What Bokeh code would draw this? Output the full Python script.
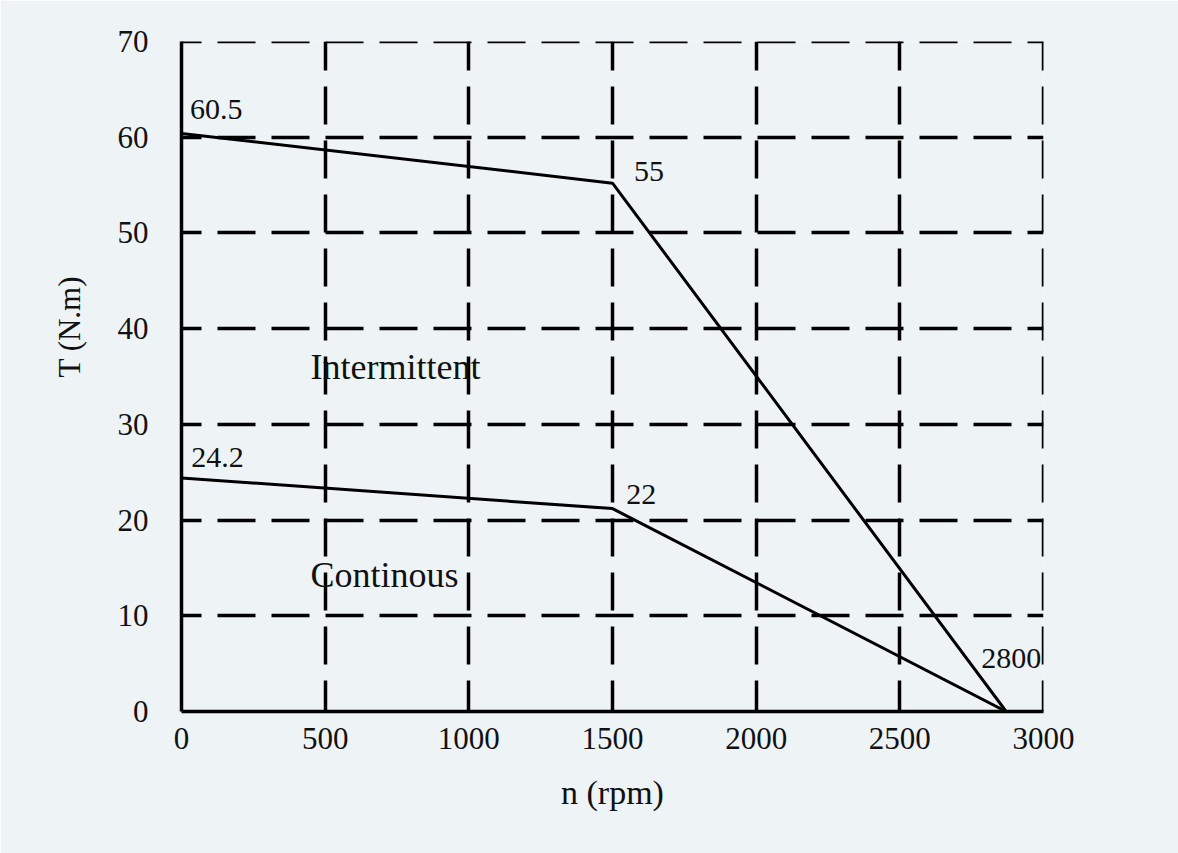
from bokeh.plotting import figure
from bokeh.models import Range1d, FixedTicker, Title
from bokeh.core.properties import value
from bokeh.embed import file_html
from bokeh.resources import INLINE

# ---- data ----
speed_ticks = [0, 500, 1000, 1500, 2000, 2500, 3000]
speed_tick_labels = ["0", "500", "1000", "1500", "2000", "2500", "3000"]
torque_ticks = [0, 10, 20, 30, 40, 50, 60, 70]
torque_tick_labels = ["0", "10", "20", "30", "40", "50", "60", "70"]

intermittent_speed = [0, 1500, 2870]
intermittent_torque = [60.4, 55.2, 0]
continuous_speed = [0, 1500, 2870]
continuous_torque = [24.4, 21.2, 0]

value_notes = ["60.5", "55", "24.2", "22", "2800"]
value_note_x = [30, 1575, 34, 1548, 2783]
value_note_y = [61.6, 55.2, 25.25, 21.4, 4.3]

region_notes = ["Intermittent", "Continous"]
region_note_x = [449, 449]
region_note_y = [34.7, 12.96]

x_title = "n (rpm)"
y_title = "T (N.m)"

# ---- style ----
BG = "#eef3f6"
FONT = "Liberation Serif"
INK = "#111111"

p = figure(width=1178, height=853,
           x_range=Range1d(0, 3000.001), y_range=Range1d(0, 70.0001),
           output_backend="svg", toolbar_location=None,
           min_border_left=181, min_border_right=135,
           min_border_top=41, min_border_bottom=142,
           background_fill_color=BG, border_fill_color=BG)
p.outline_line_color = None

# axes
for ax in (p.xaxis[0], p.yaxis[0]):
    ax.axis_line_color = "black"
    ax.axis_line_width = 3.5
    ax.major_tick_line_color = None
    ax.minor_tick_line_color = None
    ax.major_tick_out = 0
    ax.major_tick_in = 0
    ax.major_label_text_font = FONT
    ax.major_label_text_font_size = "31px"
    ax.major_label_text_color = INK

p.xaxis.ticker = FixedTicker(ticks=speed_ticks)
p.xaxis.major_label_overrides = {t: s for t, s in zip(speed_ticks, speed_tick_labels)}
p.xaxis.major_label_standoff = 16
p.xaxis.axis_label = x_title
p.xaxis.axis_label_text_font = FONT
p.xaxis.axis_label_text_font_size = "34px"
p.xaxis.axis_label_text_font_style = "normal"
p.xaxis.axis_label_text_color = INK
p.xaxis.axis_label_standoff = 22

p.yaxis.ticker = FixedTicker(ticks=torque_ticks)
p.yaxis.major_label_overrides = {t: s for t, s in zip(torque_ticks, torque_tick_labels)}
p.yaxis.major_label_standoff = 33

# y-axis title, placed above centre like the reference
p.add_layout(Title(text=y_title, align="left", offset=334, standoff=56,
                   text_font=FONT, text_font_size="31px",
                   text_font_style="normal", text_color=INK), "left")

# grids
p.xgrid.ticker = FixedTicker(ticks=speed_ticks)
p.ygrid.ticker = FixedTicker(ticks=torque_ticks)
for g, off in ((p.xgrid[0], 7), (p.ygrid[0], 18)):
    g.grid_line_color = "black"
    g.grid_line_width = 3.5
    g.grid_line_dash = "38 16"
    g.grid_line_dash_offset = off

# curves
p.line(intermittent_speed, intermittent_torque, line_color="black", line_width=3)
p.line(continuous_speed, continuous_torque, line_color="black", line_width=3)

# annotations in the plot
p.text(x=value_note_x, y=value_note_y, text=value_notes, y_offset=-12,
       text_font=value(FONT), text_font_size="30px", text_color=INK,
       text_align="left", text_baseline="alphabetic")
p.text(x=region_note_x, y=region_note_y, text=region_notes, y_offset=-12,
       text_font=value(FONT), text_font_size="36px", text_color=INK,
       text_align="left", text_baseline="alphabetic")

open("out.html", "w").write(file_html(p, INLINE))
